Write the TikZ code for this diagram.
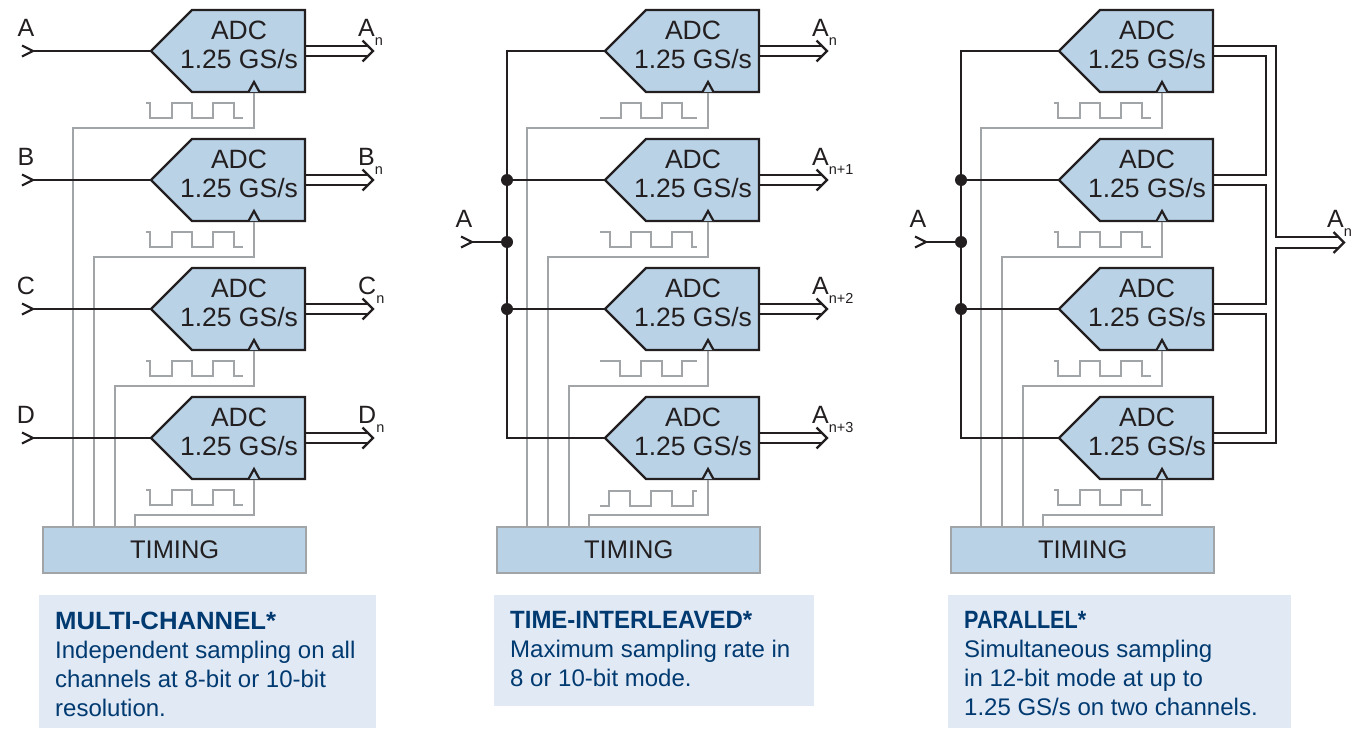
\documentclass[tikz,border=0pt]{standalone}
\usepackage{fontspec}
\setmainfont{Liberation Sans}
\usepackage{tikz}
\usetikzlibrary{calc}
\definecolor{adcfill}{HTML}{B9D2E6}
\definecolor{capfill}{HTML}{E1E9F5}
\definecolor{capblue}{HTML}{003A70}
\definecolor{darkline}{HTML}{231F20}
\definecolor{clockgray}{HTML}{A2A5A7}
\tikzset{
	sigline/.style={draw=darkline,line width=2.2pt},
	clockline/.style={draw=clockgray,line width=2.4pt},
	adcbody/.style={draw=darkline,fill=adcfill,line width=2.2pt},
	adctext/.style={align=center,text=darkline,font=\fontsize{26.5}{29}\selectfont,inner sep=0pt},
	timingbox/.style={draw=clockgray,fill=adcfill,line width=2.4pt,minimum width=263pt,minimum height=46pt,anchor=north west,text=darkline,font=\fontsize{25.5}{29}\selectfont},
	siglabel/.style={anchor=base west,inner sep=0pt,text=darkline,font=\fontsize{25}{29}\selectfont},
	joint/.style={fill=darkline,circle,inner sep=0pt,minimum size=12pt},
	capbox/.style={fill=capfill,anchor=north west,inner sep=0pt},
	captext/.style={anchor=north west,text=capblue,align=left,inner sep=0pt,font=\fontsize{24}{29}\selectfont},
}
%ADC block: name, x of the tip, y of the tip
\newcommand{\adcblock}[3]{
	\draw[adcbody] (#2,#3) -- ++(41,-41) -- ++(113,0) -- ++(0,82) -- ++(-113,0) -- cycle;
	\node[adctext] (#1) at (#2+88,#3-6) {ADC\\1.25 GS/s};
	\coordinate (#1in) at (#2,#3);
	\coordinate (#1clk) at (#2+103,#3+42);
	\coordinate (#1outa) at (#2+154,#3-5);
	\coordinate (#1outb) at (#2+154,#3+5);
	\draw[sigline,fill=adcfill] (#2+97.5,#3+41) -- ++(5.5,-10) -- ++(5.5,10);
}
%Double output line with open head: name of the block
\newcommand{\outbus}[1]{
	\coordinate (#1tip) at ($(#1in)+(222,0)$);
	\draw[sigline] (#1outa) -- ($(#1tip)+(-5,-5)$);
	\draw[sigline] (#1outb) -- ($(#1tip)+(-5,5)$);
	\draw[sigline] ($(#1tip)+(-10.5,-10.5)$) -- (#1tip) -- ++(-10.5,10.5);
}
%Input mark, open head with its point at the coordinate
\newcommand{\inmark}[1]{
	\draw[sigline] ($(#1)+(-11,-5.5)$) -- (#1) -- ++(-11,5.5);
}
%Clock trace with a short high start, x and y of the upper left end
\newcommand{\clocktrace}[2]{
	\draw[clockline] (#1,#2) -- ++(4,0) -- ++(0,15) -- ++(22,0) -- ++(0,-15) -- ++(20,0) -- ++(0,15) -- ++(21,0) -- ++(0,-15) -- ++(21,0) -- ++(0,15) -- ++(9,0);
}
\newcommand{\subn}[1]{\raisebox{-9pt}{\fontsize{14.5}{14.5}\selectfont #1}}
%Caption title stretched to a given width
\newcommand{\captitle}[2]{\resizebox{#1pt}{\height}{\fontsize{25}{29}\selectfont\textbf{#2}}}

\begin{document}
\begin{tikzpicture}[x=1pt,y=-1pt]
	\useasboundingbox (0,0) rectangle (1362,728);
	%Shift of the second and third panel
	\pgfmathsetmacro{\xb}{454}
	\pgfmathsetmacro{\xc}{908}

	%Timing boxes and their four taps
	\node[timingbox] (tima) at (42,526) {TIMING};
	\node[timingbox] (timb) at (\xb+42,526) {TIMING};
	\node[timingbox] (timc) at (\xc+42,526) {TIMING};

	%Panel A
	\adcblock{aa}{151}{51}
	\adcblock{ab}{151}{180}
	\adcblock{ac}{151}{309}
	\adcblock{ad}{151}{438}
	\draw[clockline] (aaclk) -- ++(0,35) -| (tima.north west -| 73,0);
	\draw[clockline] (abclk) -- ++(0,35) -| (tima.north west -| 94,0);
	\draw[clockline] (acclk) -- ++(0,35) -| (tima.north west -| 115,0);
	\draw[clockline] (adclk) -- ++(0,35) -| (tima.north west -| 135,0);
	\clocktrace{146}{103}
	\clocktrace{146}{232}
	\clocktrace{146}{361}
	\clocktrace{146}{490}
	\coordinate (ina) at (33,51);
	\coordinate (inb) at (33,180);
	\coordinate (inc) at (33,309);
	\coordinate (ind) at (33,438);
	\draw[sigline] (ina) -- (aain);
	\draw[sigline] (inb) -- (abin);
	\draw[sigline] (inc) -- (acin);
	\draw[sigline] (ind) -- (adin);
	\inmark{ina}
	\inmark{inb}
	\inmark{inc}
	\inmark{ind}
	\outbus{aa}
	\outbus{ab}
	\outbus{ac}
	\outbus{ad}
	\node[siglabel,anchor=base] (lina) at (26,36) {A};
	\node[siglabel,anchor=base] (linb) at (26,165) {B};
	\node[siglabel,anchor=base] (linc) at (26,294) {C};
	\node[siglabel,anchor=base] (lind) at (26,423) {D};
	\node[siglabel] (louta) at (358,36) {A\subn{n}};
	\node[siglabel] (loutb) at (358,165) {B\subn{n}};
	\node[siglabel] (loutc) at (358,294) {C\subn{n}};
	\node[siglabel] (loutd) at (358,423) {D\subn{n}};

	%Panel B
	\adcblock{ba}{\xb+151}{51}
	\adcblock{bb}{\xb+151}{180}
	\adcblock{bc}{\xb+151}{309}
	\adcblock{bd}{\xb+151}{438}
	\draw[clockline] (baclk) -- ++(0,35) -| (timb.north west -| \xb+73,0);
	\draw[clockline] (bbclk) -- ++(0,35) -| (timb.north west -| \xb+94,0);
	\draw[clockline] (bcclk) -- ++(0,35) -| (timb.north west -| \xb+115,0);
	\draw[clockline] (bdclk) -- ++(0,35) -| (timb.north west -| \xb+135,0);
	\draw[clockline] (600,118) -- ++(21,0) -- ++(0,-15) -- ++(20,0) -- ++(0,15) -- ++(21,0) -- ++(0,-15) -- ++(20,0) -- ++(0,15) -- ++(15,0);
	\draw[clockline] (600,232) -- ++(10,0) -- ++(0,15) -- ++(21,0) -- ++(0,-15) -- ++(20,0) -- ++(0,15) -- ++(21,0) -- ++(0,-15) -- ++(20,0) -- ++(0,15) -- ++(5,0);
	\draw[clockline] (600,361) -- ++(20,0) -- ++(0,15) -- ++(21,0) -- ++(0,-15) -- ++(21,0) -- ++(0,15) -- ++(20,0) -- ++(0,-15) -- ++(15,0);
	\draw[clockline] (600,506) -- ++(9,0) -- ++(0,-15) -- ++(21,0) -- ++(0,15) -- ++(21,0) -- ++(0,-15) -- ++(21,0) -- ++(0,15) -- ++(21,0) -- ++(0,-15) -- ++(4,0);
	\coordinate (bbustop) at (507,51);
	\coordinate (bbusbot) at (507,438);
	\coordinate (bin) at (472,242);
	\node[joint] (bjb) at (507,180) {};
	\node[joint] (bja) at (507,242) {};
	\node[joint] (bjc) at (507,309) {};
	\draw[sigline] (bain) -- (bbustop) -- (bbusbot) -- (bdin);
	\draw[sigline] (bjb) -- (bbin);
	\draw[sigline] (bjc) -- (bcin);
	\draw[sigline] (bin) -- (bja);
	\inmark{bin}
	\outbus{ba}
	\outbus{bb}
	\outbus{bc}
	\outbus{bd}
	\node[siglabel,anchor=base] (lbin) at (464,227) {A};
	\node[siglabel] (lbouta) at (812,36) {A\subn{n}};
	\node[siglabel] (lboutb) at (812,165) {A\subn{n+1}};
	\node[siglabel] (lboutc) at (812,294) {A\subn{n+2}};
	\node[siglabel] (lboutd) at (812,423) {A\subn{n+3}};

	%Panel C
	\adcblock{ca}{\xc+151}{51}
	\adcblock{cb}{\xc+151}{180}
	\adcblock{cc}{\xc+151}{309}
	\adcblock{cd}{\xc+151}{438}
	\draw[clockline] (caclk) -- ++(0,35) -| (timc.north west -| \xc+73,0);
	\draw[clockline] (cbclk) -- ++(0,35) -| (timc.north west -| \xc+94,0);
	\draw[clockline] (ccclk) -- ++(0,35) -| (timc.north west -| \xc+115,0);
	\draw[clockline] (cdclk) -- ++(0,35) -| (timc.north west -| \xc+135,0);
	\clocktrace{\xc+146}{103}
	\clocktrace{\xc+146}{232}
	\clocktrace{\xc+146}{361}
	\clocktrace{\xc+146}{490}
	\coordinate (cbustop) at (961,51);
	\coordinate (cbusbot) at (961,438);
	\coordinate (cin) at (926,242);
	\node[joint] (cjb) at (961,180) {};
	\node[joint] (cja) at (961,242) {};
	\node[joint] (cjc) at (961,309) {};
	\draw[sigline] (cain) -- (cbustop) -- (cbusbot) -- (cdin);
	\draw[sigline] (cjb) -- (cbin);
	\draw[sigline] (cjc) -- (ccin);
	\draw[sigline] (cin) -- (cja);
	\inmark{cin}
	%Outputs joined in pairs
	\coordinate (ctip) at (1344,242.5);
	\coordinate (cupper) at (1339,237);
	\coordinate (clower) at (1339,248);
	\draw[sigline] (caouta) -| (1276,237) -- (cupper);
	\draw[sigline] (cdoutb) -| (1276,248) -- (clower);
	\draw[sigline] (caoutb) -| (1266,175) -- (cbouta);
	\draw[sigline] (cboutb) -| (1266,304) -- (ccouta);
	\draw[sigline] (ccoutb) -| (1266,433) -- (cdouta);
	\draw[sigline] ($(ctip)+(-10.5,-10.5)$) -- (ctip) -- ++(-10.5,10.5);
	\node[siglabel,anchor=base] (lcin) at (918,227) {A};
	\node[siglabel] (lcout) at (1327,227) {A\subn{n}};

	%Captions
	\node[capbox,minimum width=337pt,minimum height=133pt] (capa) at (39,595) {};
	\node[capbox,minimum width=320pt,minimum height=111pt] (capb) at (494,595) {};
	\node[capbox,minimum width=343pt,minimum height=133pt] (capc) at (948,595) {};
	\node[captext] (capatext) at ($(capa.north west)+(16,16.5)$) {\captitle{221}{MULTI-CHANNEL*}\\Independent sampling on all\\channels at 8-bit or 10-bit\\resolution.};
	\node[captext] (capbtext) at ($(capb.north west)+(16,16.5)$) {\captitle{242}{TIME-INTERLEAVED*}\\Maximum sampling rate in\\8 or 10-bit mode.};
	\node[captext] (capctext) at ($(capc.north west)+(16,16.5)$) {\captitle{122}{PARALLEL*}\\Simultaneous sampling\\in 12-bit mode at up to\\1.25 GS/s on two channels.};
\end{tikzpicture}
\end{document}
